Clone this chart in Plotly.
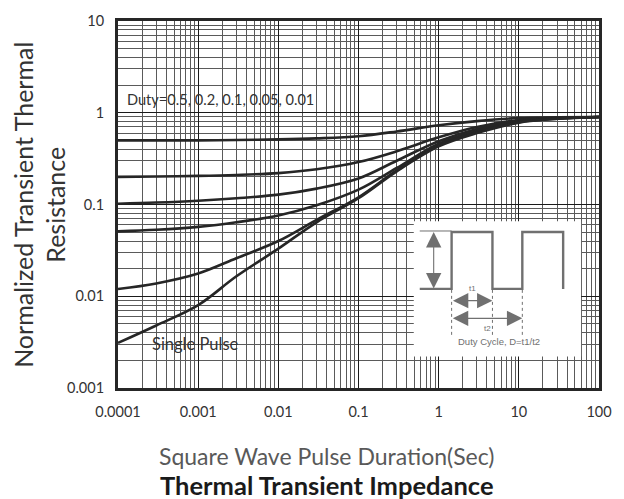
import plotly.graph_objects as go

# Pulse duration (s) sample points shared by all curves
pulse_time = [1e-4, 3e-4, 1e-3, 3e-3, 1e-2, 3e-2, 0.1, 0.3, 1, 3, 10, 30, 100]

# Normalized transient thermal resistance for each duty cycle
duty_0_5 = [0.50, 0.50, 0.50, 0.505, 0.512, 0.526, 0.555, 0.625, 0.73, 0.81, 0.875, 0.89, 0.90]
duty_0_2 = [0.20, 0.202, 0.205, 0.21, 0.22, 0.242, 0.29, 0.38, 0.54, 0.70, 0.835, 0.88, 0.90]
duty_0_1 = [0.102, 0.105, 0.110, 0.117, 0.128, 0.149, 0.192, 0.30, 0.49, 0.665, 0.815, 0.87, 0.90]
duty_0_05 = [0.051, 0.053, 0.057, 0.064, 0.076, 0.098, 0.145, 0.25, 0.46, 0.635, 0.80, 0.865, 0.90]
duty_0_01 = [0.012, 0.0138, 0.0177, 0.026, 0.040, 0.068, 0.12, 0.235, 0.44, 0.615, 0.79, 0.86, 0.90]
single_pulse = [0.0031, 0.0048, 0.0080, 0.0165, 0.033, 0.064, 0.117, 0.23, 0.43, 0.60, 0.78, 0.86, 0.90]

series = [duty_0_5, duty_0_2, duty_0_1, duty_0_05, duty_0_01, single_pulse]

x_ticks = [1e-4, 1e-3, 1e-2, 0.1, 1, 10, 100]
x_tick_text = ["0.0001", "0.001", "0.01", "0.1", "1", "10", "100"]
y_ticks = [0.001, 0.01, 0.1, 1, 10]
y_tick_text = ["0.001", "0.01", "0.1", "1", "10"]

W, H = 624, 499
L, R, T, B = 118, 601, 14, 388
FONT = "Lato, sans-serif"
INSET_FONT = "Liberation Sans, Arial, sans-serif"
GRAY = "#707070"


def px(x):
    return (x - L) / (R - L)


def py(y):
    return (B - y) / (B - T)


fig = go.Figure()
for ys in series:
    fig.add_trace(go.Scatter(
        x=pulse_time, y=ys, mode="lines",
        line=dict(color="#262626", width=2.6, shape="spline", smoothing=1.0),
        showlegend=False, hoverinfo="skip",
    ))

axis_common = dict(
    type="log", showline=True, linewidth=3, linecolor="#262626", mirror=True,
    showgrid=True, gridcolor="#1a1a1a", gridwidth=1, ticks="", zeroline=False,
    tickfont=dict(family=FONT, size=14.5, color="#333333"),
    minor=dict(showgrid=True, dtick="D1", gridcolor="#5a5a5a", gridwidth=1, ticks=""),
)

fig.update_xaxes(
    range=[-4, 2], tickvals=x_ticks, ticktext=x_tick_text, ticklabelstandoff=9,
    **axis_common,
)
fig.update_yaxes(
    range=[-3, 1], tickvals=y_ticks, ticktext=y_tick_text, ticklabelstandoff=8,
    **axis_common,
)

shapes = []
annotations = []

# Duty cycle inset diagram
shapes.append(dict(type="rect", xref="paper", yref="paper",
                   x0=px(415), x1=px(583), y0=py(356), y1=py(218),
                   fillcolor="white", line=dict(width=0), layer="above"))

wave_x = [421, 453, 453, 494, 494, 524, 524, 565, 565]
wave_y = [287, 287, 229, 229, 287, 287, 229, 229, 287]
path = "M " + " L ".join(f"{px(a):.5f},{py(b):.5f}" for a, b in zip(wave_x, wave_y))
shapes.append(dict(type="path", xref="paper", yref="paper", path=path,
                   line=dict(color=GRAY, width=2.4), layer="above"))
shapes.append(dict(type="line", xref="paper", yref="paper",
                   x0=px(421), x1=px(453), y0=py(228), y1=py(228),
                   line=dict(color=GRAY, width=1), layer="above"))
for xd in (453, 494, 524):
    shapes.append(dict(type="line", xref="paper", yref="paper",
                       x0=px(xd), x1=px(xd), y0=py(288), y1=py(334),
                       line=dict(color=GRAY, width=1, dash="dot"), layer="above"))


def double_arrow(x0, y0, x1, y1):
    annotations.append(dict(
        xref="paper", yref="paper", x=px(x1), y=py(y1),
        axref="pixel", ayref="pixel", ax=x0 - x1, ay=y0 - y1,
        text="", showarrow=True, arrowside="end+start", arrowhead=2,
        arrowsize=2.8, arrowwidth=1.1, arrowcolor=GRAY, standoff=0, startstandoff=0,
    ))


double_arrow(435, 287, 435, 229)
double_arrow(453, 299, 494, 299)
double_arrow(453, 317, 524, 317)


def label(text, x, y, size, color, family, anchor="center", bold=False):
    annotations.append(dict(
        xref="paper", yref="paper", x=px(x), y=py(y), text=f"<b>{text}</b>" if bold else text,
        showarrow=False, xanchor=anchor, yanchor="middle",
        font=dict(family=family, size=size, color=color),
    ))


label("t1", 474, 287, 8, GRAY, INSET_FONT)
label("t2", 489, 327, 8, GRAY, INSET_FONT)
label("Duty Cycle, D=t1/t2", 501, 341, 9.5, GRAY, INSET_FONT)

label("Duty=0.5, 0.2, 0.1, 0.05, 0.01", 125, 94, 14.6, "#333333", FONT, anchor="left")
label("Single Pulse", 150, 343, 16.5, "#333333", FONT, anchor="left")

# Axis titles
annotations.append(dict(
    xref="paper", yref="paper", x=px(39), y=py(201),
    text="Normalized Transient Thermal<br>Resistance", showarrow=False,
    textangle=-90, xanchor="center", yanchor="middle",
    font=dict(family=FONT, size=25, color="#333333"),
))
label("Square Wave Pulse Duration(Sec)", 327, 457, 23, "#595959", FONT)
label("Thermal Transient Impedance", 328, 487, 25.5, "#1a1a1a", FONT, bold=True)

fig.update_layout(
    width=W, height=H,
    margin=dict(l=L, r=W - R, t=T, b=H - B),
    paper_bgcolor="white", plot_bgcolor="white",
    shapes=shapes, annotations=annotations,
)

fig.write_html("out.html")
